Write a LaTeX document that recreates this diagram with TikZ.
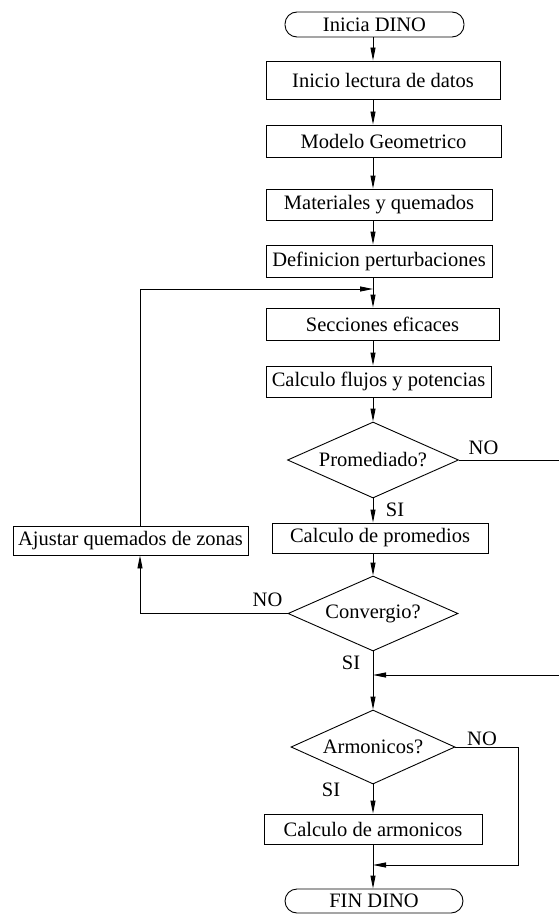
\documentclass[tikz,border=0pt]{standalone}
\usepackage{fontspec}
\setmainfont{Liberation Serif}
\usetikzlibrary{shapes.geometric,arrows.meta,calc}
\begin{document}
\begin{tikzpicture}[x=1pt,y=-1pt,
  font=\fontsize{20.5}{24}\selectfont,
  every path/.style={line width=0.9pt},
  procbox/.style={draw, rectangle, inner sep=0pt},
  termbox/.style={draw, rectangle, rounded corners=12pt, inner sep=0pt},
  decbox/.style={draw, diamond, aspect=2.25, inner sep=0pt},
  lbl/.style={inner sep=0pt},
  arr/.style={-{Triangle[length=13pt,width=5pt]}}]
\useasboundingbox (0,0) rectangle (559,915);
\coordinate (m) at (373,0);
\coordinate (a) at (140,0);

\node[termbox, minimum width=179, minimum height=25] (s) at (374.5,24.5) {Inicia DINO};
\node[procbox, minimum width=234, minimum height=38] (b1) at (383,80) {Inicio lectura de datos};
\node[procbox, minimum width=235, minimum height=32] (b2) at (383.5,141) {Modelo Geometrico};
\node[procbox, minimum width=226, minimum height=31] (b3) at (379,204.5) {Materiales y quemados};
\node[procbox, minimum width=226, minimum height=32] (b4) at (379,261) {Definicion perturbaciones};
\node[procbox, minimum width=233, minimum height=32] (b5) at (382.5,324) {Secciones eficaces};
\node[procbox, minimum width=225, minimum height=31] (b6) at (378.5,381.5) {Calculo flujos y potencias};
\node[decbox, minimum width=171, minimum height=76] (d1) at (373,460) {Promediado?};
\node[procbox, minimum width=216, minimum height=30] (b7) at (380,538) {Calculo de promedios};
\node[procbox, minimum width=235, minimum height=29] (b8) at (130.5,540.5) {Ajustar quemados de zonas};
\node[decbox, minimum width=170, minimum height=75] (d2) at (373,613.5) {Convergio?};
\node[decbox, minimum width=164, minimum height=74] (d3) at (373,747) {Armonicos?};
\node[procbox, minimum width=218, minimum height=30] (b9) at (373,829) {Calculo de armonicos};
\node[termbox, minimum width=178, minimum height=24] (e) at (374,901) {FIN DINO};

\node[lbl] (no1) at (483.5,448) {NO};
\node[lbl] (si1) at (395,510) {SI};
\node[lbl] (no2) at (267.5,600) {NO};
\node[lbl] (si2) at (351,663) {SI};
\node[lbl] (no3) at (482,739) {NO};
\node[lbl] (si3) at (331,790) {SI};

\coordinate (fb) at (373,289);
\coordinate (j1) at (373,675);
\coordinate (j2) at (373,865);
\coordinate (r1) at (566,460);
\coordinate (r2) at (566,675);
\coordinate (r3) at (518,747);
\coordinate (r4) at (518,865);

\draw[arr] (s.south -| m) -- (b1.north -| m);
\draw[arr] (b1.south -| m) -- (b2.north -| m);
\draw[arr] (b2.south -| m) -- (b3.north -| m);
\draw[arr] (b3.south -| m) -- (b4.north -| m);
\draw[arr] (b4.south -| m) -- (b5.north -| m);
\draw[arr] (b5.south -| m) -- (b6.north -| m);
\draw[arr] (b6.south -| m) -- (d1.north);
\draw[arr] (d1.south) -- (b7.north -| m);
\draw[arr] (b7.south -| m) -- (d2.north);
\draw[arr] (d2.south) -- (d3.north);
\draw[arr] (d3.south) -- (b9.north -| m);
\draw[arr] (b9.south -| m) -- (e.north -| m);

\draw[arr] (b8.north -| a) |- (fb);
\draw[arr] (d2.west) -| (b8.south -| a);
\draw[arr] (d1.east) -- (r1) -- (r2) -- (j1);
\draw[arr] (d3.east) -- (r3) -- (r4) -- (j2);
\end{tikzpicture}
\end{document}
